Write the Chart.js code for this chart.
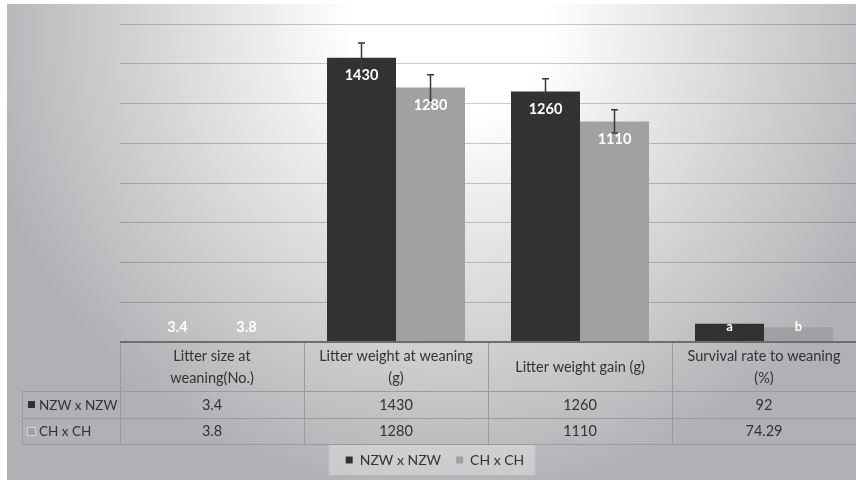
<!DOCTYPE html>
<html>
<head>
<meta charset="utf-8">
<script src="https://cdn.jsdelivr.net/npm/chart.js@4.4.0/dist/chart.umd.min.js"></script>
<style>
  html, body { margin: 0; padding: 0; background: #fff; }
</style>
</head>
<body>
<canvas id="myChart" width="856" height="481"></canvas>
<script>
const categories = [
    ['Litter size at', 'weaning(No.)'],
    ['Litter weight at weaning', '(g)'],
    'Litter weight gain (g)',
    ['Survival rate to weaning', '(%)'],
];
const seriesNames = ['NZW x NZW', 'CH x CH'];
const nzwValues = [3.4, 1430, 1260, 92];
const chValues = [3.8, 1280, 1110, 74.29];
// error bar half lengths (0 = none drawn)
const nzwErrors = [0, 75, 64, 0];
const chErrors = [0, 65, 58, 0];
// text shown on the bars
const nzwMarks = ['3.4', '1430', '1260', 'a'];
const chMarks = ['3.8', '1280', '1110', 'b'];
const yMax = 1600;
const yStep = 200;

const darkColor = '#323232';
const greyColor = '#a1a1a3';
const fontFamily = 'Lato, "Open Sans", sans-serif';

Chart.defaults.font.family = fontFamily;
Chart.defaults.color = '#333';

// gradient background and the light panel behind the legend
const backdrop = {
    id: 'backdrop',
    beforeDraw(chart) {
        const ctx = chart.ctx;
        ctx.save();
        ctx.fillStyle = '#fff';
        ctx.fillRect(0, 0, chart.width, chart.height);
        const g = ctx.createRadialGradient(450, 20, 0, 450, 20, 480);
        g.addColorStop(0, '#ffffff');
        g.addColorStop(0.2, '#ffffff');
        g.addColorStop(1, 'rgb(177,177,181)');
        ctx.fillStyle = g;
        ctx.fillRect(7, 4, chart.width - 7, chart.height - 5);

        const boxes = chart.legend.legendHitBoxes;
        if (boxes && boxes.length) {
            const left = Math.min(...boxes.map(b => b.left)) - 17;
            const right = Math.max(...boxes.map(b => b.left + b.width)) + 11;
            const mid = boxes[0].top + boxes[0].height / 2;
            ctx.fillStyle = 'rgba(255,255,255,0.3)';
            ctx.fillRect(left, mid - 15, right - left, 30);
        }
        ctx.restore();
    }
};

// error bars and value labels
const barExtras = {
    id: 'barExtras',
    afterDatasetsDraw(chart) {
        const ctx = chart.ctx;
        const y = chart.scales.y;
        const bottom = chart.chartArea.bottom;
        ctx.save();
        chart.data.datasets.forEach((ds, i) => {
            const meta = chart.getDatasetMeta(i);
            meta.data.forEach((bar, j) => {
                const err = ds.errors[j];
                if (err) {
                    const hi = y.getPixelForValue(ds.data[j] + err);
                    const lo = y.getPixelForValue(ds.data[j] - err);
                    ctx.strokeStyle = '#3a3a3a';
                    ctx.lineWidth = 1.5;
                    ctx.beginPath();
                    ctx.moveTo(bar.x, hi);
                    ctx.lineTo(bar.x, lo);
                    ctx.moveTo(bar.x - 3.5, hi);
                    ctx.lineTo(bar.x + 3.5, hi);
                    ctx.moveTo(bar.x - 3.5, lo);
                    ctx.lineTo(bar.x + 3.5, lo);
                    ctx.stroke();
                }
                const mark = ds.marks[j];
                ctx.fillStyle = '#fff';
                ctx.font = 'bold ' + (mark.length > 1 ? 14.5 : 13) + 'px ' + fontFamily;
                ctx.textAlign = 'center';
                ctx.textBaseline = 'middle';
                ctx.fillText(mark, bar.x, Math.min(bar.y + 18, bottom - 15));
            });
        });
        ctx.restore();
    }
};

// data table under the axis
const dataTable = {
    id: 'dataTable',
    afterDraw(chart) {
        const ctx = chart.ctx;
        const xs = chart.scales.x;
        const area = chart.chartArea;
        const top = area.bottom;
        const row1 = top + 49;
        const row2 = row1 + 26.5;
        const end = row2 + 26.5;
        const keyLeft = 22;
        const colW = xs.width / categories.length;
        const px = v => Math.round(v) + 0.5;

        ctx.save();
        ctx.strokeStyle = '#9a9a9a';
        ctx.lineWidth = 1;
        ctx.beginPath();
        [row1, row2, end].forEach(yy => {
            ctx.moveTo(keyLeft, px(yy));
            ctx.lineTo(area.right, px(yy));
        });
        ctx.moveTo(px(keyLeft), px(row1));
        ctx.lineTo(px(keyLeft), px(end));
        for (let k = 0; k < categories.length; k++) {
            const xx = px(xs.left + k * colW);
            ctx.moveTo(xx, top);
            ctx.lineTo(xx, px(end));
        }
        ctx.stroke();

        ctx.strokeStyle = '#6e6e6e';
        ctx.lineWidth = 2;
        ctx.beginPath();
        ctx.moveTo(area.left, top);
        ctx.lineTo(area.right, top);
        ctx.stroke();

        const rows = [
            { name: seriesNames[0], color: darkColor, edge: null, values: nzwValues, y: (row1 + row2) / 2 },
            { name: seriesNames[1], color: greyColor, edge: '#d4d4d4', values: chValues, y: (row2 + end) / 2 },
        ];
        ctx.textBaseline = 'middle';
        rows.forEach(r => {
            const by = Math.round(r.y) - 3;
            ctx.fillStyle = r.color;
            ctx.fillRect(28, by, 7, 7);
            if (r.edge) {
                ctx.strokeStyle = r.edge;
                ctx.lineWidth = 1;
                ctx.strokeRect(27.5, by - 0.5, 8, 8);
            }
            ctx.fillStyle = '#333';
            ctx.font = '13.5px ' + fontFamily;
            ctx.textAlign = 'left';
            ctx.fillText(r.name, 39, r.y + 1);
            ctx.font = '14.5px ' + fontFamily;
            ctx.textAlign = 'center';
            r.values.forEach((v, k) => {
                ctx.fillText(String(v), xs.getPixelForValue(k), r.y + 1);
            });
        });
        ctx.restore();
    }
};

const data = {
    labels: categories,
    datasets: [{
        label: seriesNames[0],
        data: nzwValues,
        errors: nzwErrors,
        marks: nzwMarks,
        backgroundColor: darkColor,
        borderWidth: 0,
    }, {
        label: seriesNames[1],
        data: chValues,
        errors: chErrors,
        marks: chMarks,
        backgroundColor: greyColor,
        borderWidth: 0,
    }]
};

const config = {
    type: 'bar',
    data: data,
    options: {
        responsive: false,
        animation: false,
        categoryPercentage: 0.75,
        barPercentage: 1,
        layout: { padding: { top: 24, left: 14, right: 0, bottom: 4 } },
        plugins: {
            legend: {
                position: 'bottom',
                labels: {
                    boxWidth: 7,
                    boxHeight: 7,
                    padding: 15,
                    color: '#333',
                    font: { size: 14 },
                }
            },
            tooltip: { enabled: false },
        },
        scales: {
            x: {
                grid: { display: false },
                border: { display: false },
                ticks: {
                    color: '#333',
                    font: { size: 14.5, lineHeight: 1.52 },
                    padding: 6,
                    crossAlign: 'center',
                    maxRotation: 0,
                    autoSkip: false,
                },
                afterFit: s => { s.height = 96; },
            },
            y: {
                min: 0,
                max: yMax,
                ticks: { display: false, stepSize: yStep },
                grid: { color: 'rgba(0,0,0,0.2)', drawTicks: false },
                border: { display: false },
                afterFit: s => { s.width = 106; },
            }
        }
    },
    plugins: [backdrop, barExtras, dataTable]
};

const myChart = new Chart(
    document.getElementById('myChart'),
    config
);
</script>
</body>
</html>
